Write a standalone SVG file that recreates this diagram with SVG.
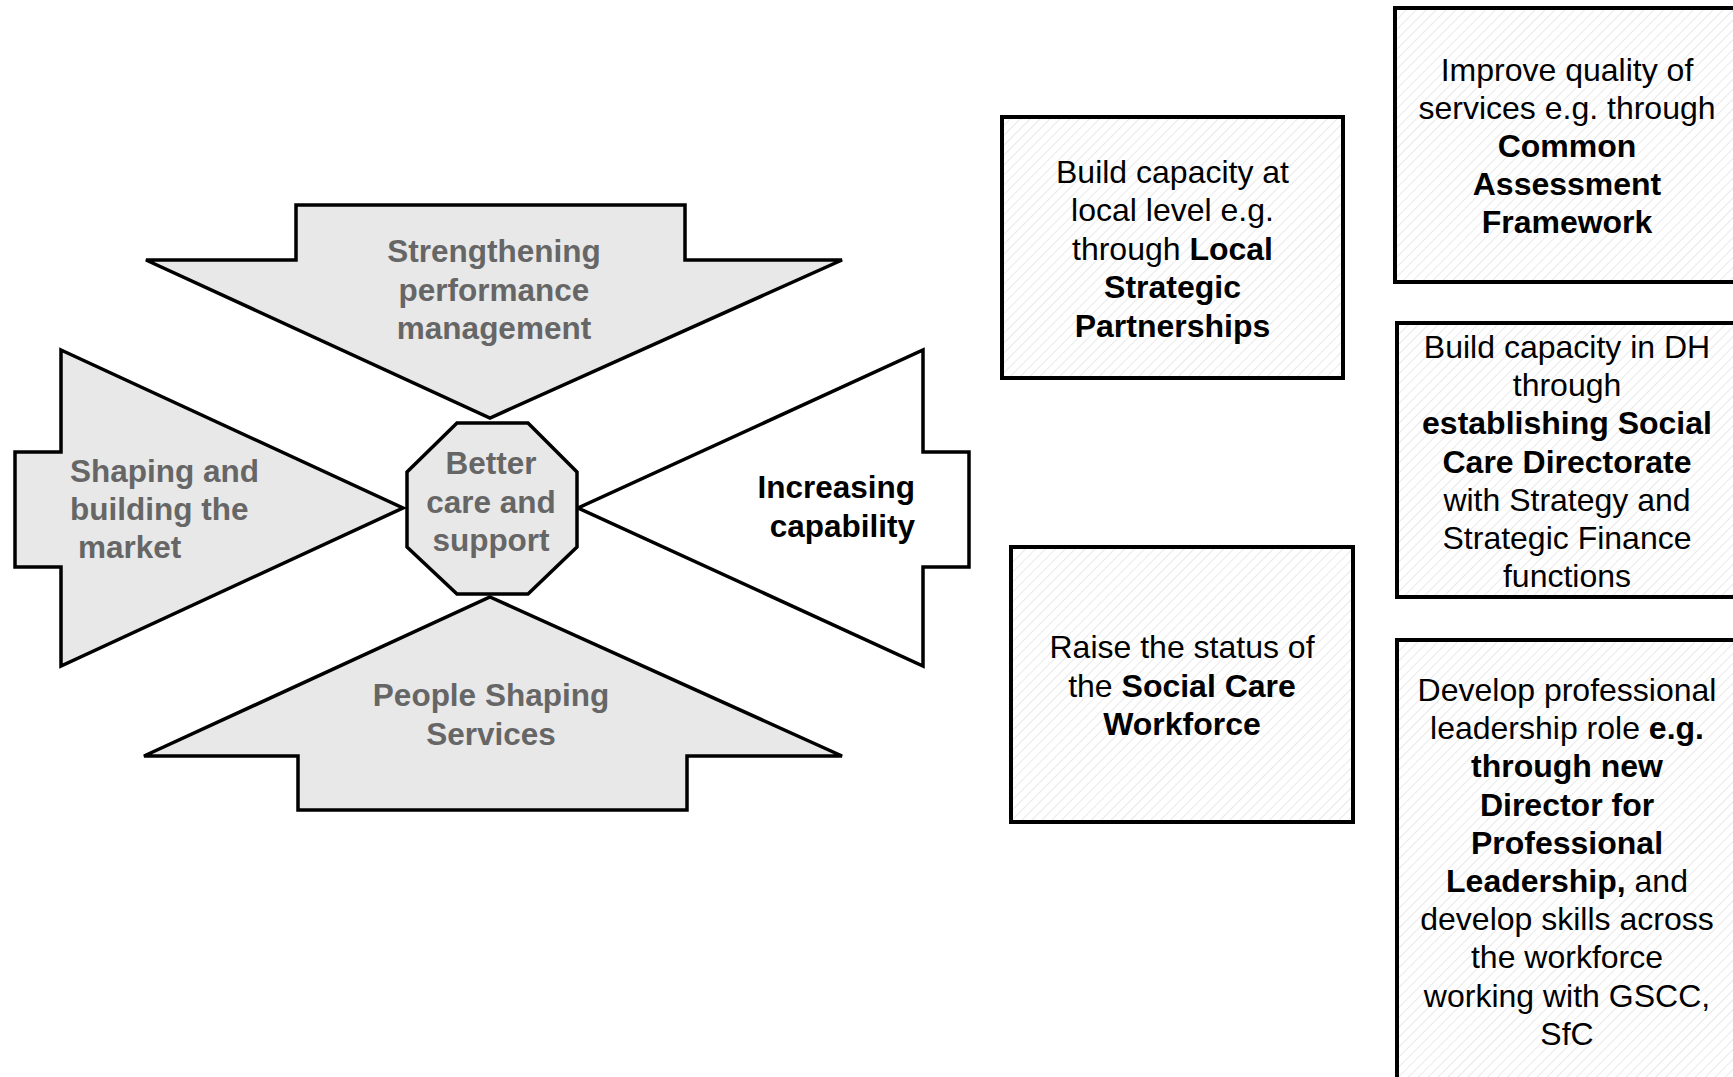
<svg xmlns="http://www.w3.org/2000/svg" width="1733" height="1077" viewBox="0 0 1733 1077">
  <defs>
    <pattern id="hatch" width="7" height="7" patternUnits="userSpaceOnUse" patternTransform="rotate(45)">
      <rect width="7" height="7" fill="#ffffff"/>
      <line x1="0" y1="0" x2="0" y2="7" stroke="#dedede" stroke-width="1.3"/>
    </pattern>
    <style>
      .arrow { fill: #e8e8e8; stroke: #000; stroke-width: 3.5; stroke-linejoin: miter; }
      .arrow.open { fill: #ffffff; }
      .hub { fill: #e8e8e8; stroke: #000; stroke-width: 3.5; }
      .box { fill: url(#hatch); stroke: #000; stroke-width: 4; }
      .lbl { font-family: "Liberation Sans", Arial, sans-serif; font-weight: bold; font-size: 31.5px; fill: #666666; }
      .lbl.dark { fill: #000000; }
      .txt { font-family: "Liberation Sans", Arial, sans-serif; font-size: 32px; fill: #000; text-anchor: middle; }
      .b { font-weight: bold; }
    </style>
  </defs>

  <!-- central hub and the four arrows pointing at it -->
  <g id="arrow-top">
    <polygon class="arrow" points="296,205 685,205 685,260 842,260 490,418 146,260 296,260"/>
    <text class="lbl" text-anchor="middle" x="494" y="262">Strengthening</text>
    <text class="lbl" text-anchor="middle" x="494" y="300.5">performance</text>
    <text class="lbl" text-anchor="middle" x="494" y="339">management</text>
  </g>

  <g id="arrow-left">
    <polygon class="arrow" points="61,350 403,508 61,666 61,567 15,567 15,452 61,452"/>
    <text class="lbl" x="70" y="482">Shaping and</text>
    <text class="lbl" x="70" y="520">building the</text>
    <text class="lbl" x="78" y="558">market</text>
  </g>

  <g id="arrow-right">
    <polygon class="arrow open" points="923,350 923,452 969,452 969,567 923,567 923,666 578,508"/>
    <text class="lbl dark" text-anchor="end" x="915" y="498">Increasing</text>
    <text class="lbl dark" text-anchor="end" x="915" y="537">capability</text>
  </g>

  <g id="arrow-bottom">
    <polygon class="arrow" points="490,597 842,756 687,756 687,810 298,810 298,756 144,756"/>
    <text class="lbl" text-anchor="middle" x="491" y="706">People Shaping</text>
    <text class="lbl" text-anchor="middle" x="491" y="745">Services</text>
  </g>

  <g id="hub">
    <polygon class="hub" points="457,423 528,423 577,472 577,547 528,594 457,594 407,547 407,472"/>
    <text class="lbl" text-anchor="middle" x="491" y="474">Better</text>
    <text class="lbl" text-anchor="middle" x="491" y="512.5">care and</text>
    <text class="lbl" text-anchor="middle" x="491" y="551">support</text>
  </g>

  <!-- initiative boxes -->
  <g id="box-local">
    <rect class="box" x="1002" y="117" width="341" height="261"/>
    <text class="txt" x="1172.5" y="183">Build capacity at</text>
    <text class="txt" x="1172.5" y="221.4">local level e.g.</text>
    <text class="txt" x="1172.5" y="259.8">through <tspan class="b">Local</tspan></text>
    <text class="txt b" x="1172.5" y="298.2">Strategic</text>
    <text class="txt b" x="1172.5" y="336.6">Partnerships</text>
  </g>

  <g id="box-workforce">
    <rect class="box" x="1011" y="547" width="342" height="275"/>
    <text class="txt" x="1182" y="658">Raise the status of</text>
    <text class="txt" x="1182" y="696.5">the <tspan class="b">Social Care</tspan></text>
    <text class="txt b" x="1182" y="735">Workforce</text>
  </g>

  <g id="box-quality">
    <rect class="box" x="1395" y="8" width="344" height="274"/>
    <text class="txt" x="1567" y="80.6">Improve quality of</text>
    <text class="txt" x="1567" y="118.7">services e.g. through</text>
    <text class="txt b" x="1567" y="156.8">Common</text>
    <text class="txt b" x="1567" y="194.9">Assessment</text>
    <text class="txt b" x="1567" y="233">Framework</text>
  </g>

  <g id="box-directorate">
    <rect class="box" x="1397" y="323" width="342" height="274"/>
    <text class="txt" x="1567" y="358">Build capacity in DH</text>
    <text class="txt" x="1567" y="396.2">through</text>
    <text class="txt b" x="1567" y="434.4">establishing Social</text>
    <text class="txt b" x="1567" y="472.6">Care Directorate</text>
    <text class="txt" x="1567" y="510.8">with Strategy and</text>
    <text class="txt" x="1567" y="549">Strategic Finance</text>
    <text class="txt" x="1567" y="587.2">functions</text>
  </g>

  <g id="box-leadership">
    <rect class="box" x="1397" y="640" width="342" height="460"/>
    <text class="txt" x="1567" y="701">Develop professional</text>
    <text class="txt" x="1567" y="739.2">leadership role <tspan class="b">e.g.</tspan></text>
    <text class="txt b" x="1567" y="777.4">through new</text>
    <text class="txt b" x="1567" y="815.6">Director for</text>
    <text class="txt b" x="1567" y="853.8">Professional</text>
    <text class="txt" x="1567" y="892"><tspan class="b">Leadership,</tspan> and</text>
    <text class="txt" x="1567" y="930.2">develop skills across</text>
    <text class="txt" x="1567" y="968.4">the workforce</text>
    <text class="txt" x="1567" y="1006.6">working with GSCC,</text>
    <text class="txt" x="1567" y="1044.8">SfC</text>
  </g>

  <!-- the arrows touch the hub directly; no separate connector lines -->
  <g id="connectors"/>
</svg>
